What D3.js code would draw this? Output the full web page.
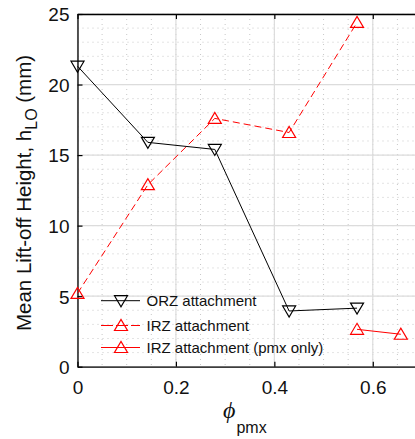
<!DOCTYPE html>
<html>
<head>
<meta charset="utf-8">
<script src="https://cdn.jsdelivr.net/npm/d3@7"></script>
<style>
  body { margin: 0; background: #fff; }
  text { font-family: "Liberation Sans", Arial, sans-serif; }
</style>
</head>
<body>
<div id="chart"></div>
<script>
// values
var orzPhi = [0, 0.143, 0.279, 0.43, 0.568];
var orzH   = [21.3, 15.9, 15.4, 3.95, 4.15];
var irzPhi = [0, 0.143, 0.279, 0.43, 0.568];
var irzH   = [5.2, 12.9, 17.6, 16.6, 24.4];
var pmxPhi = [0.568, 0.657];
var pmxH   = [2.65, 2.3];
var legendNames = ["ORZ attachment", "IRZ attachment", "IRZ attachment (pmx only)"];
var xTicks = [0, 0.2, 0.4, 0.6];
var yTicks = [0, 5, 10, 15, 20, 25];

var W = 415, H = 439;
var margin = { top: 14, left: 77.5 };
var width = 344.5, height = 352.7;

var svg = d3.select("#chart").append("svg")
    .attr("width", W).attr("height", H);
var g = svg.append("g")
    .attr("transform", "translate(" + margin.left + "," + margin.top + ")");

var x = d3.scaleLinear().domain([0, 0.7]).range([0, width]);
var y = d3.scaleLinear().domain([0, 25]).range([height, 0]);

// minor grid (dotted)
var xMinor = d3.range(0, 0.7001, 0.05);
var yMinor = d3.range(0, 25.001, 1);
g.selectAll(".xminor").data(xMinor).enter().append("line")
    .attr("x1", function(d){ return x(d); }).attr("x2", function(d){ return x(d); })
    .attr("y1", 0).attr("y2", height)
    .attr("stroke", "#c8c8c8").attr("stroke-width", 1).attr("stroke-dasharray", "1,4");
g.selectAll(".yminor").data(yMinor).enter().append("line")
    .attr("y1", function(d){ return y(d); }).attr("y2", function(d){ return y(d); })
    .attr("x1", 0).attr("x2", width)
    .attr("stroke", "#c8c8c8").attr("stroke-width", 1).attr("stroke-dasharray", "1,4");

// major grid
g.selectAll(".xmajor").data(xTicks).enter().append("line")
    .attr("x1", function(d){ return x(d); }).attr("x2", function(d){ return x(d); })
    .attr("y1", 0).attr("y2", height)
    .attr("stroke", "#dcdcdc").attr("stroke-width", 1.2);
g.selectAll(".ymajor").data(yTicks).enter().append("line")
    .attr("y1", function(d){ return y(d); }).attr("y2", function(d){ return y(d); })
    .attr("x1", 0).attr("x2", width)
    .attr("stroke", "#dcdcdc").attr("stroke-width", 1.2);

// axes
var xAxis = g.append("g")
    .attr("transform", "translate(0," + height + ")")
    .call(d3.axisBottom(x).tickValues(xTicks).tickSizeInner(-5).tickSizeOuter(0)
        .tickFormat(d3.format("")));
var xTop = g.append("g")
    .call(d3.axisTop(x).tickValues(xTicks).tickSizeInner(-5).tickSizeOuter(0)
        .tickFormat(""));
var yAxis = g.append("g")
    .call(d3.axisLeft(y).tickValues(yTicks).tickSizeInner(-5).tickSizeOuter(0));

[xAxis, xTop, yAxis].forEach(function(a) {
  a.select(".domain").attr("stroke", "#000").attr("stroke-width", 1.3);
  a.selectAll(".tick line").attr("stroke", "#000").attr("stroke-width", 1.2);
  a.selectAll("text").attr("fill", "#111").style("font-size", "19px")
      .style("font-family", "'Liberation Sans', Arial, sans-serif");
});
xAxis.selectAll("text").attr("dy", "1.3em");
yAxis.selectAll("text").attr("x", -8).attr("dy", "0.36em");

// markers
function triDown(cx, cy) {
  return "M" + (cx - 6.5) + "," + (cy - 5) + "L" + (cx + 6.5) + "," + (cy - 5) + "L" + cx + "," + (cy + 6) + "Z";
}
function triUp(cx, cy) {
  return "M" + (cx - 6.5) + "," + (cy + 5) + "L" + (cx + 6.5) + "," + (cy + 5) + "L" + cx + "," + (cy - 6) + "Z";
}

var line = d3.line()
    .x(function(d){ return x(d[0]); })
    .y(function(d){ return y(d[1]); });

var series = [
  { phi: orzPhi, h: orzH, color: "#000", dash: null, marker: triDown },
  { phi: irzPhi, h: irzH, color: "#ff0000", dash: "7,4", marker: triUp },
  { phi: pmxPhi, h: pmxH, color: "#ff0000", dash: null, marker: triUp }
];

series.forEach(function(s) {
  var pts = s.phi.map(function(p, i){ return [p, s.h[i]]; });
  g.append("path").datum(pts)
      .attr("d", line).attr("fill", "none")
      .attr("stroke", s.color).attr("stroke-width", 1)
      .attr("stroke-dasharray", s.dash);
  g.selectAll(null).data(pts).enter().append("path")
      .attr("d", function(d){ return s.marker(x(d[0]), y(d[1])); })
      .attr("fill", "none").attr("stroke", s.color).attr("stroke-width", 1.2);
});

// legend
var legRows = [300.7, 325.5, 347.5];
series.forEach(function(s, i) {
  var ly = legRows[i];
  svg.append("line")
      .attr("x1", 101).attr("x2", 140).attr("y1", ly).attr("y2", ly)
      .attr("stroke", s.color).attr("stroke-width", 1)
      .attr("stroke-dasharray", s.dash ? "12,3" : null);
  svg.append("path").attr("d", s.marker(121, ly))
      .attr("fill", "none").attr("stroke", s.color).attr("stroke-width", 1.2);
  svg.append("text").attr("x", 146.5).attr("y", ly).attr("dy", "0.36em")
      .style("font-size", "15px").attr("fill", "#111")
      .text(legendNames[i]);
});

// y label
var yl = svg.append("text")
    .attr("transform", "translate(31," + 193 + ") rotate(-90)")
    .attr("text-anchor", "middle")
    .style("font-size", "20.5px").attr("fill", "#111");
yl.append("tspan").text("Mean Lift-off Height, h");
yl.append("tspan").attr("dy", 6).style("font-size", "16px").text("LO");
yl.append("tspan").attr("dy", -6).text(" (mm)");

// x label
var xl = svg.append("text")
    .attr("x", 223).attr("y", 418)
    .style("font-size", "24px").attr("fill", "#111");
xl.append("tspan").style("font-style", "italic").style("font-family", "'Liberation Serif', serif")
    .text("ϕ");
xl.append("tspan").attr("dy", 15).attr("dx", 1).style("font-size", "16px").text("pmx");
</script>
</body>
</html>
